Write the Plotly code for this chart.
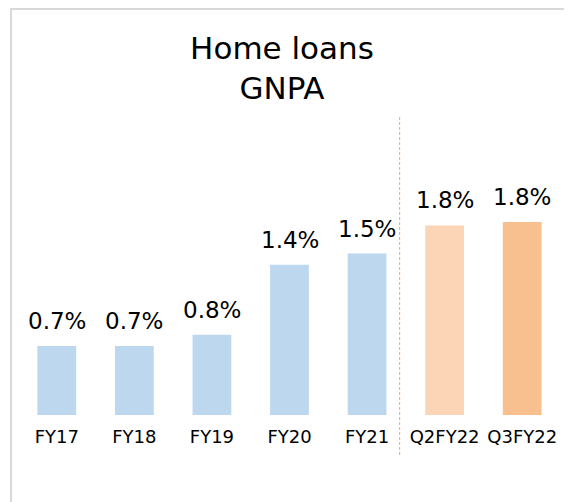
import plotly.graph_objects as go

categories = ["FY17", "FY18", "FY19", "FY20", "FY21", "Q2FY22", "Q3FY22"]
gnpa_pct = [0.70, 0.70, 0.80, 1.42, 1.52, 1.77, 1.80]
bar_colors = ["#bdd7ee", "#bdd7ee", "#bdd7ee", "#bdd7ee", "#bdd7ee", "#fbd5b5", "#f8c08e"]
value_labels = [f"{v:.1f}%" for v in gnpa_pct]

W, H = 572, 502
m_l, m_r, m_t, m_b = 10, 19, 102, 95
pw, ph = W - m_l - m_r, H - m_t - m_b

fig = go.Figure()
fig.add_trace(go.Bar(
    x=categories, y=gnpa_pct,
    marker=dict(color=bar_colors, line=dict(width=0)),
    width=0.5, hoverinfo="skip", showlegend=False,
))

for c, v, t in zip(categories, gnpa_pct, value_labels):
    fig.add_annotation(x=c, y=v, text=t, showarrow=False, xref="x", yref="y",
                       yanchor="bottom", yshift=10,
                       font=dict(family="DejaVu Sans", size=23, color="#000000"))

# separator between annual and quarterly figures
fig.add_shape(type="line", xref="x", yref="paper", x0=4.42, x1=4.42,
              y0=-40 / ph, y1=(ph - 7) / ph,
              line=dict(color="#f3a76f", width=1, dash="3px,2px"))

# outer frame (extends past the right/bottom edges)
fig.add_shape(type="rect", xref="paper", yref="paper",
              x0=(3 - m_l) / pw, x1=(W + 20 - m_l) / pw,
              y0=-(m_b + 20) / ph, y1=(ph + m_t - 1) / ph,
              line=dict(color="#d9d9d9", width=2), fillcolor="rgba(0,0,0,0)", layer="below")

fig.update_layout(
    width=W, height=H,
    margin=dict(l=m_l, r=m_r, t=m_t, b=m_b, pad=0),
    paper_bgcolor="white", plot_bgcolor="white",
    title=dict(text="Home loans<br>GNPA", x=(274 - m_l) / pw, xanchor="center", xref="paper",
               y=1 - 51 / H, yanchor="top",
               font=dict(family="DejaVu Sans", size=31, color="#000000")),
    font=dict(family="DejaVu Sans", color="#000000"),
    xaxis=dict(showgrid=False, showline=False, zeroline=False, ticks="",
               tickfont=dict(size=18, color="#000000"), ticklabelstandoff=9,
               fixedrange=True),
    yaxis=dict(range=[0.088, 2.794], showgrid=False, showline=False, zeroline=False,
               showticklabels=False, ticks="", fixedrange=True),
)

fig.write_html("out.html")
